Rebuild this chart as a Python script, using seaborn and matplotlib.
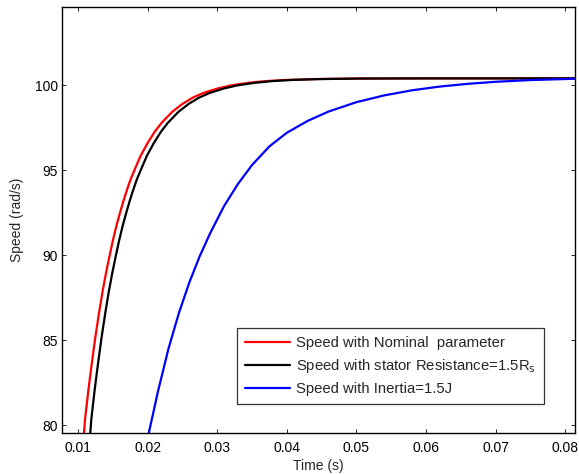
import pandas as pd
import matplotlib
matplotlib.use("Agg")
import matplotlib.pyplot as plt
import seaborn as sns

# Values (time in s, speed in rad/s)
t_nominal = [0.0105, 0.0110, 0.0115, 0.0120, 0.0125, 0.0130, 0.0135, 0.0140, 0.0145,
             0.0150, 0.0155, 0.0160, 0.0165, 0.0170, 0.0175, 0.0180, 0.0190, 0.0200,
             0.0210, 0.0220, 0.0235, 0.0250, 0.0265, 0.0280, 0.0300, 0.0320, 0.0345,
             0.0370, 0.0400, 0.0440, 0.0500, 0.0600, 0.0815]
w_nominal = [77.5, 80.3, 82.1, 83.7, 85.2, 86.55, 87.8, 88.9, 89.9,
             90.85, 91.7, 92.45, 93.15, 93.8, 94.4, 94.9, 95.85, 96.6,
             97.25, 97.78, 98.42, 98.9, 99.27, 99.54, 99.8, 99.99, 100.14,
             100.24, 100.31, 100.36, 100.39, 100.4, 100.4]

t_stator = [0.0114, 0.0119, 0.0124, 0.0129, 0.0134, 0.0139, 0.0144, 0.0149, 0.0154,
            0.0159, 0.0164, 0.0169, 0.0174, 0.0179, 0.0184, 0.0189, 0.0199, 0.0209,
            0.0219, 0.0229, 0.0244, 0.0259, 0.0274, 0.0289, 0.0309, 0.0329, 0.0354,
            0.0379, 0.0409, 0.0449, 0.0505, 0.0600, 0.0815]
w_stator = [77.5, 80.3, 82.1, 83.7, 85.2, 86.55, 87.8, 88.9, 89.9,
            90.85, 91.7, 92.45, 93.15, 93.8, 94.4, 94.9, 95.85, 96.6,
            97.25, 97.78, 98.42, 98.9, 99.27, 99.54, 99.8, 99.99, 100.14,
            100.24, 100.31, 100.36, 100.39, 100.4, 100.4]

t_inertia = [0.0198, 0.0201, 0.0215, 0.0230, 0.0245, 0.0260, 0.0275, 0.0290, 0.0310,
             0.0330, 0.0350, 0.0375, 0.0400, 0.0430, 0.0460, 0.0500, 0.0540, 0.0580,
             0.0620, 0.0660, 0.0700, 0.0750, 0.0815]
w_inertia = [78.8, 79.4, 82.0, 84.5, 86.6, 88.4, 89.95, 91.3, 92.9,
             94.2, 95.3, 96.4, 97.2, 97.9, 98.45, 99.0, 99.4, 99.7,
             99.92, 100.08, 100.2, 100.3, 100.38]

labels = ["Speed with Nominal  parameter",
          r"Speed with stator Resistance=1.5R$_\mathrm{s}$",
          "Speed with Inertia=1.5J"]
colors = ["#ff0000", "#000000", "#0000ff"]

x_ticks = [0.01, 0.02, 0.03, 0.04, 0.05, 0.06, 0.07, 0.08]
y_ticks = [80, 85, 90, 95, 100]

frames = []
for lab, t, w in zip(labels, [t_nominal, t_stator, t_inertia],
                     [w_nominal, w_stator, w_inertia]):
    frames.append(pd.DataFrame({"time": t, "speed": w, "series": lab}))
df = pd.concat(frames, ignore_index=True)

sns.set_theme(style="ticks")
plt.rcParams["font.family"] = ["Liberation Sans", "DejaVu Sans"]
plt.rcParams["mathtext.default"] = "regular"

fig = plt.figure(figsize=(5.79, 4.74), dpi=100)
ax = fig.add_axes([0.1071, 0.0865, 0.886, 0.8987])

sns.lineplot(data=df, x="time", y="speed", hue="series", hue_order=labels,
             palette=colors, estimator=None, sort=False, linewidth=1.6, ax=ax)

ax.set_xlim(0.0077, 0.0814)
ax.set_ylim(79.53, 104.6)
ax.set_xticks(x_ticks)
ax.set_xticklabels([f"{v:.2f}" for v in x_ticks])
ax.set_yticks(y_ticks)
ax.set_yticklabels([str(v) for v in y_ticks])
ax.tick_params(direction="in", top=True, right=True, length=3, width=0.6,
               labelsize=10, colors="black")
ax.tick_params(axis="x", pad=6)
ax.tick_params(axis="y", pad=3)
for sp in ax.spines.values():
    sp.set_visible(True)
    sp.set_linewidth(1.0)
    sp.set_color("black")

ax.set_xlabel("Time (s)", fontsize=10, labelpad=3)
ax.set_ylabel("Speed (rad/s)", fontsize=10, labelpad=8)

handles, labs = ax.get_legend_handles_labels()
leg = ax.legend(handles, labs, loc="lower left", bbox_to_anchor=(0.341, 0.068),
                borderaxespad=0, fontsize=10.7, frameon=True, fancybox=False,
                handlelength=3.0, handletextpad=0.45, labelspacing=0.45,
                borderpad=0.55)
leg.get_frame().set_edgecolor("black")
leg.get_frame().set_linewidth(0.9)
for line in leg.get_lines():
    line.set_linewidth(1.6)

fig.savefig("out.png", dpi=100)
